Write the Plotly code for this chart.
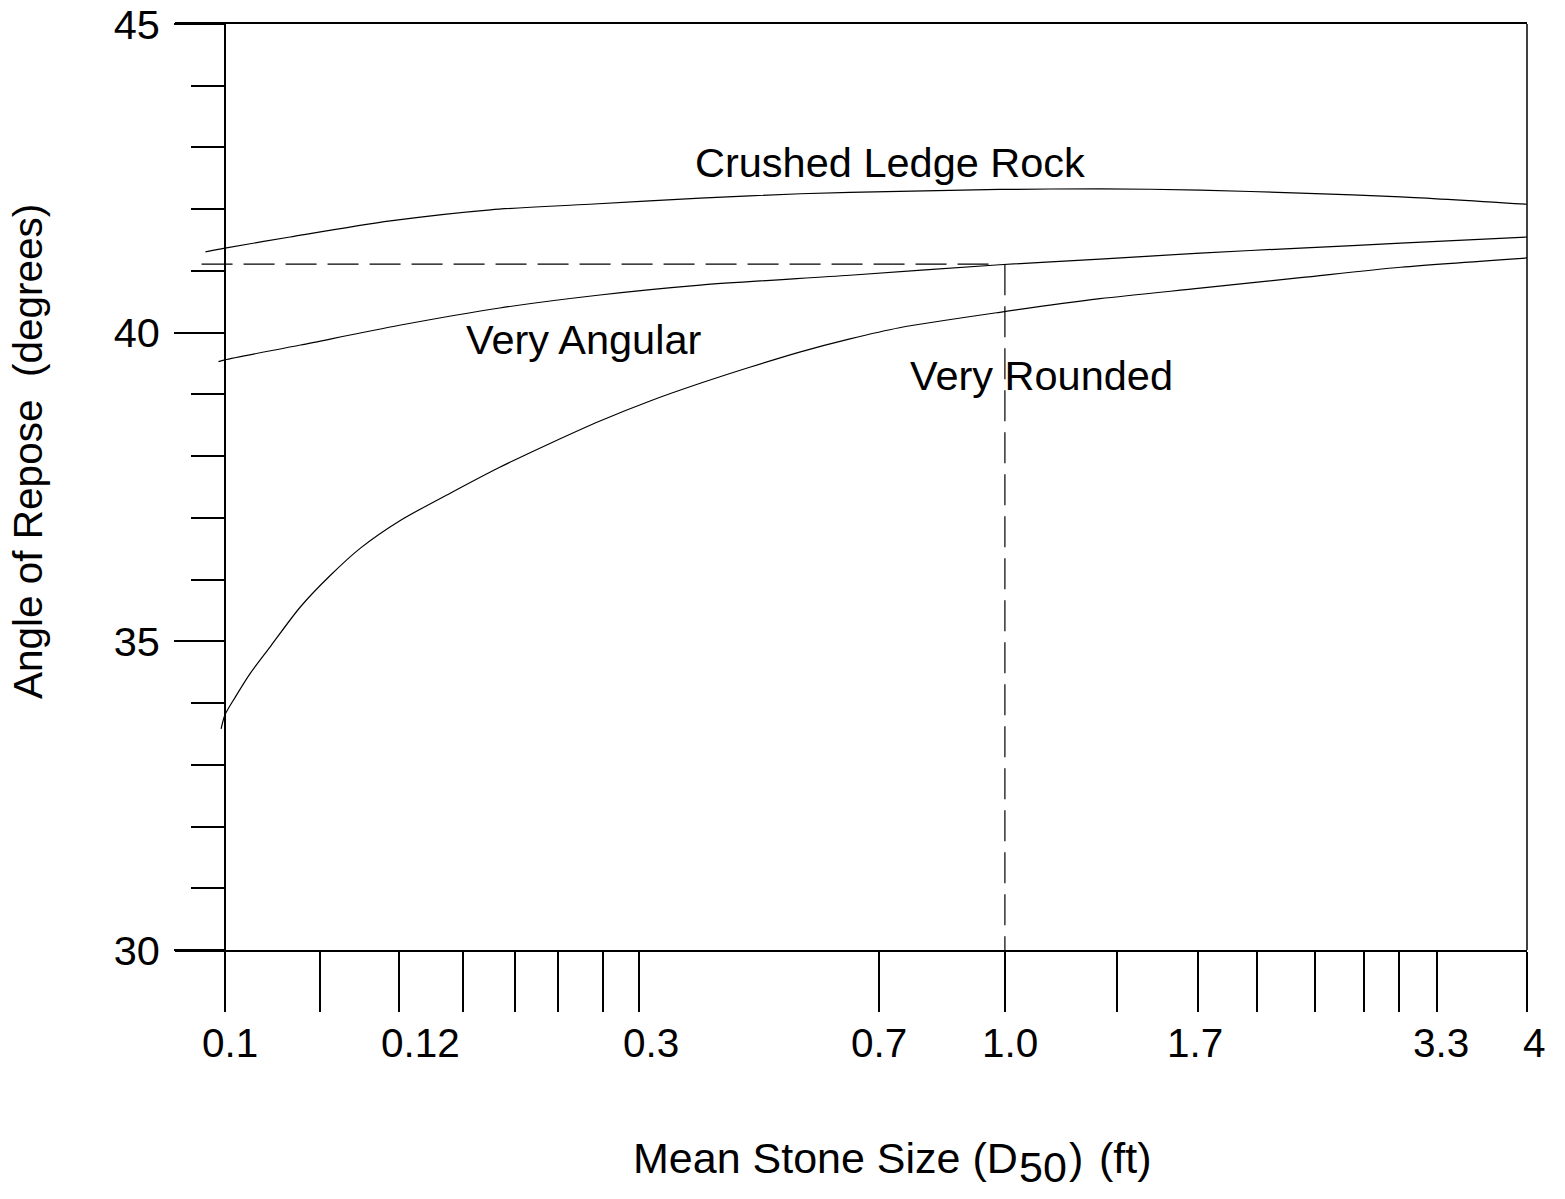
import plotly.graph_objects as go

# ---- Axis scale (the chart's size axis is an irregular graphical scale; positions in axis units 0..100) ----
x_range = [-3.84, 100]
x_tick_pos = [0, 7.3, 13.4, 18.3, 22.3, 25.6, 29.0, 31.8, 50.2, 59.9, 68.5, 74.7, 79.3, 83.7, 87.5, 90.2, 93.1, 100]
x_label_pos = [0.4, 15.0, 32.7, 50.2, 60.3, 74.5, 93.4, 100.6]
x_label_text = ["0.1", "0.12", "0.3", "0.7", "1.0", "1.7", "3.3", "4"]

y_range = [30, 45]
y_major_ticks = [30, 35, 40, 45]

# ---- Curves (angle of repose, degrees) ----
crushed_x = [-1.5, 0, 5.0, 12.7, 20.4, 28.0, 36.5, 44.2, 51.8, 59.5, 67.2, 74.9, 82.6, 90.3, 100]
crushed_y = [41.31, 41.37, 41.55, 41.81, 41.99, 42.08, 42.18, 42.25, 42.29, 42.32, 42.33, 42.31, 42.26, 42.20, 42.08]

angular_x = [-0.5, 0, 5.8, 13.4, 21.1, 28.8, 36.5, 48.0, 59.5, 67.2, 74.9, 82.6, 90.3, 100]
angular_y = [39.53, 39.56, 39.80, 40.12, 40.40, 40.61, 40.77, 40.93, 41.10, 41.19, 41.29, 41.37, 41.45, 41.55]

rounded_x = [-0.3, 0, 0.8, 1.9, 3.5, 5.8, 8.1, 10.4, 13.4, 17.3, 21.1, 25.0, 28.8, 32.6, 36.5, 40.3,
             44.2, 48.0, 51.8, 59.5, 67.2, 74.9, 82.6, 90.3, 100]
rounded_y = [33.58, 33.81, 34.10, 34.47, 34.92, 35.56, 36.07, 36.51, 36.95, 37.40, 37.82, 38.21, 38.57, 38.89,
             39.18, 39.44, 39.69, 39.90, 40.08, 40.33, 40.55, 40.72, 40.89, 41.06, 41.21]

# ---- Reference (dashed) read-off lines: D50 = 1.0 ft -> 41.1 deg ----
ref_h_x = [-1.8, 59.5]
ref_h_y = [41.11, 41.11]
ref_v_x = [59.9, 59.9]
ref_v_y = [41.11, 30]

# ---- Curve labels ----
label_text = ["Crushed Ledge Rock", "Very Angular", "Very Rounded"]
label_x = [51.1, 27.6, 62.7]
label_y = [42.75, 39.89, 39.30]

FONT = "Liberation Sans, Arial, sans-serif"
NB = "\u00a0"


def to_paper(u):
    return (u - x_range[0]) / (x_range[1] - x_range[0])


def px_x(p):
    return (p - 175) / 1352


def px_y(p):
    return (950 - p) / 926


fig = go.Figure()
for xs, ys in [(crushed_x, crushed_y), (angular_x, angular_y), (rounded_x, rounded_y)]:
    fig.add_trace(go.Scatter(x=xs, y=ys, mode="lines",
                             line=dict(color="black", width=1.2, shape="spline", smoothing=0.8),
                             showlegend=False, hoverinfo="skip"))
for xs, ys in [(ref_h_x, ref_h_y), (ref_v_x, ref_v_y)]:
    fig.add_trace(go.Scatter(x=xs, y=ys, mode="lines", line=dict(color="black", width=1.2, dash="31px,11px"),
                             showlegend=False, hoverinfo="skip"))

annotations = []
for t, x, y in zip(label_text, label_x, label_y):
    annotations.append(dict(x=x, y=y, xref="x", yref="y", text=t, showarrow=False,
                            font=dict(family=FONT, size=41.5, color="black"), xanchor="center", yanchor="middle"))
for t, x in zip(x_label_text, x_label_pos):
    annotations.append(dict(x=to_paper(x), y=-0.1004, xref="paper", yref="paper", text=t, showarrow=False,
                            font=dict(family=FONT, size=40.5, color="black"), xanchor="center", yanchor="middle"))

# x-axis title (with a full-size, lowered "50" subscript as in the reference)
TF = dict(family=FONT, size=43, color="black")
title_parts = [("Mean Stone Size (D", 1018, 1158, "right"), ("50", 1019, 1167, "left"),
               (")", 1069, 1158, "left"), ("(ft)", 1099, 1158, "left")]
for t, xp, yp, anc in title_parts:
    annotations.append(dict(x=px_x(xp), y=px_y(yp), xref="paper", yref="paper", text=t, showarrow=False,
                            font=TF, xanchor=anc, yanchor="middle", borderpad=0, borderwidth=0))
annotations.append(dict(x=-0.1087, y=0.5378, xref="paper", yref="paper",
                        text="Angle of Repose" + NB * 2 + "(degrees)", textangle=-90,
                        showarrow=False, font=dict(family=FONT, size=40.5, color="black"),
                        xanchor="center", yanchor="middle"))

fig.update_layout(
    width=1565, height=1199,
    margin=dict(l=175, r=38, t=24, b=249, autoexpand=False),
    paper_bgcolor="white", plot_bgcolor="white",
    showlegend=False,
    annotations=annotations,
    xaxis=dict(range=x_range, domain=[0, 1], showgrid=False, zeroline=False, automargin=False,
               showline=True, linecolor="black", linewidth=1.5, mirror=True,
               tickmode="array", tickvals=x_tick_pos, ticks="outside", ticklen=60,
               tickcolor="black", tickwidth=1.5, showticklabels=False),
    yaxis=dict(range=y_range, anchor="free", position=to_paper(0), showgrid=False, zeroline=False,
               automargin=False,
               showline=True, linecolor="black", linewidth=1.5,
               tickmode="array", tickvals=y_major_ticks, ticks="outside", ticklen=50,
               tickcolor="black", tickwidth=1.5, ticklabelstandoff=6,
               tickfont=dict(family=FONT, size=41.5, color="black"),
               minor=dict(dtick=1, tick0=30, ticks="outside", ticklen=33, tickcolor="black", tickwidth=1.5)),
    shapes=[dict(type="line", xref="paper", yref="paper", x0=1, x1=1, y0=0, y1=1,
                 line=dict(color="black", width=1.5))],
)

fig.write_html("out.html")
